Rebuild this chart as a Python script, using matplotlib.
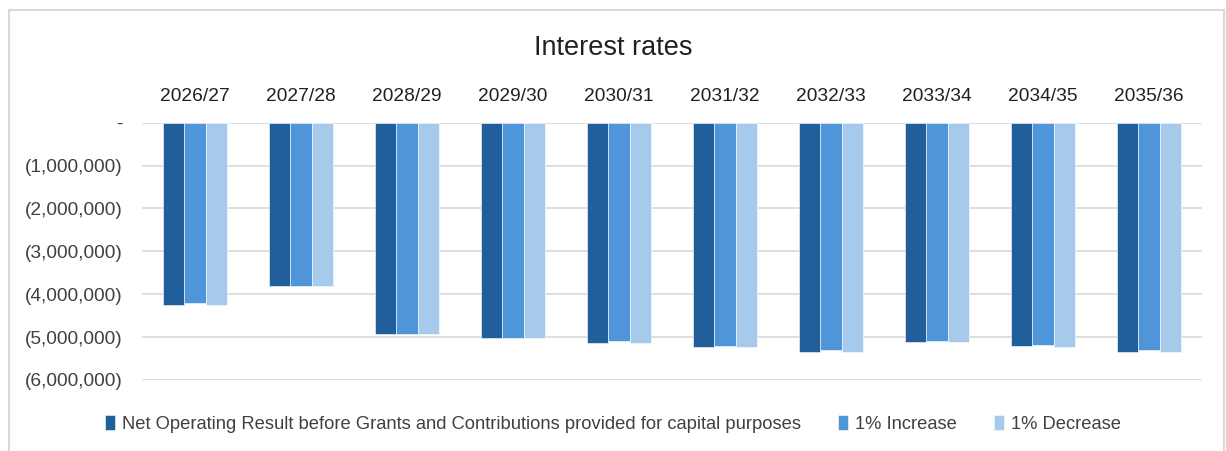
import matplotlib
matplotlib.use("Agg")
import matplotlib.pyplot as plt
from matplotlib.ticker import FuncFormatter
from matplotlib.lines import Line2D
import numpy as np

categories = ["2026/27", "2027/28", "2028/29", "2029/30", "2030/31",
              "2031/32", "2032/33", "2033/34", "2034/35", "2035/36"]
net_operating = [-4240000, -3810000, -4930000, -5030000, -5140000,
                 -5240000, -5340000, -5110000, -5210000, -5340000]
increase_1pct = [-4210000, -3810000, -4930000, -5030000, -5100000,
                 -5210000, -5300000, -5080000, -5180000, -5300000]
decrease_1pct = [-4240000, -3810000, -4930000, -5030000, -5130000,
                 -5230000, -5340000, -5120000, -5240000, -5340000]
series_names = ["Net Operating Result before Grants and Contributions provided for capital purposes",
                "1% Increase", "1% Decrease"]
colors = ["#215F9A", "#4E95D9", "#A6CAEC"]

plt.rcParams['font.family'] = ['Liberation Sans', 'DejaVu Sans']

W, H = 1226, 451
fig = plt.figure(figsize=(12.26, 4.51), dpi=100)
ax = fig.add_axes([142/W, 1-380/H, (1202-142)/W, (380-122.7)/H])

x = np.arange(len(categories))
w = 0.2
for i, (vals, name, c) in enumerate(zip([net_operating, increase_1pct, decrease_1pct], series_names, colors)):
    ax.bar(x + (i-1)*w, vals, width=w, color=c, label=name, zorder=3,
           edgecolor='white', linewidth=0.4)

ax.set_ylim(-6000000, 0)
ax.set_xlim(-0.5, len(categories)-0.5)
ax.set_yticks(np.arange(-6000000, 1, 1000000))

def fmt(v, pos):
    if abs(v) < 1:
        return "-"
    if v < 0:
        return "({:,.0f})".format(-v)
    return "{:,.0f}".format(v)
ax.yaxis.set_major_formatter(FuncFormatter(fmt))
ax.grid(axis='y', color='#D9D9D9', linewidth=1.2, zorder=0)
for s in ax.spines.values():
    s.set_visible(False)
ax.tick_params(axis='y', length=0, labelsize=13.8, labelcolor='#404040', pad=14)
ax.xaxis.tick_top()
ax.set_xticks(x)
ax.set_xticklabels(categories)
ax.tick_params(axis='x', length=0, labelsize=13.8, labelcolor='#202020', pad=13)

fig.text(0.5, 1-48/H, "Interest rates", ha='center', va='center', fontsize=19.5, color='#202020')

leg = fig.legend(loc='center', bbox_to_anchor=(0.5, 1-424/H), ncol=3, frameon=False,
                 fontsize=13.2, handlelength=0.55, handleheight=0.9, handletextpad=0.4,
                 columnspacing=2.0, labelcolor='#404040')

border = dict(color='#D9D9D9', linewidth=1.5, transform=fig.transFigure)
fig.add_artist(Line2D([9/W, 9/W], [0, 1-10/H], **border))
fig.add_artist(Line2D([9/W, 1224/W], [1-10/H, 1-10/H], **border))
fig.add_artist(Line2D([1224/W, 1224/W], [0, 1-10/H], **border))

fig.savefig("out.png", dpi=100)
